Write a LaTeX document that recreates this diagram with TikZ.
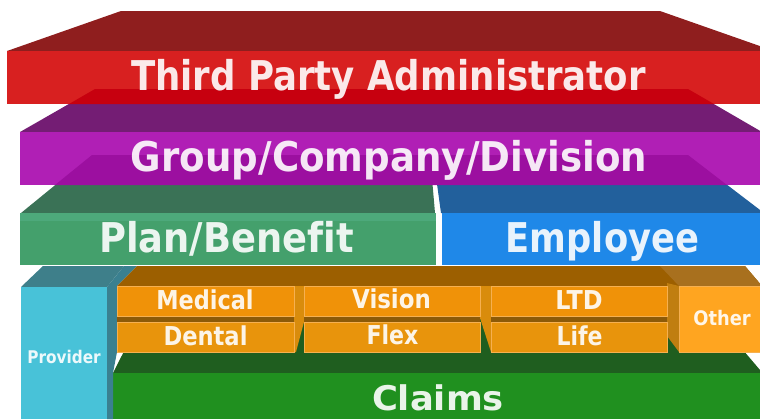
\documentclass[tikz,border=0pt]{standalone}
\usepackage{fontspec}
\setmainfont[Ligatures={NoCommon}]{DejaVu Sans}
\usepackage{graphicx}
\definecolor{redtop}{HTML}{8F1E1E}
\definecolor{redfront}{HTML}{D82020}
\definecolor{reddark}{HTML}{C7000F}
\definecolor{purpletop}{HTML}{741D74}
\definecolor{purplefront}{HTML}{B01FB5}
\definecolor{purpledark}{HTML}{9C0FA0}
\definecolor{greentop}{HTML}{3A7256}
\definecolor{greenfront}{HTML}{44A06C}
\definecolor{greenlight}{HTML}{4DA97B}
\definecolor{bluetop}{HTML}{22609C}
\definecolor{bluefront}{HTML}{1F88E8}
\definecolor{orangetop}{HTML}{9C5F00}
\definecolor{orangefront}{HTML}{F09208}
\definecolor{orangefrontb}{HTML}{E8940C}
\definecolor{orangeedge}{HTML}{F6B050}
\definecolor{stripc}{HTML}{8C5A08}
\definecolor{gapside}{HTML}{D98C0C}
\definecolor{othertop}{HTML}{A8701E}
\definecolor{otherfront}{HTML}{FFA520}
\definecolor{otherside}{HTML}{C07E10}
\definecolor{provfront}{HTML}{48C2D8}
\definecolor{provtop}{HTML}{3E7F8A}
\definecolor{provside}{HTML}{3A8090}
\definecolor{claimstop}{HTML}{1F5E1F}
\definecolor{claimsfront}{HTML}{20901F}
\newcommand{\sizedtext}[3]{\fontsize{#1}{#1}\selectfont\resizebox{#2}{\height}{#3}}
\begin{document}
\begin{tikzpicture}[x=0.75pt,y=-0.75pt,
  lbl/.style={text=white, text opacity=0.9, font=\bfseries, inner sep=0pt, anchor=base},
  ofront/.style={fill=orangefront, draw=orangeedge, line width=0.4pt},
  ofrontb/.style={fill=orangefrontb, draw=orangeedge, line width=0.4pt}]
\useasboundingbox (0,0) rectangle (760,419);
\clip (0,0) rectangle (760,419);

% ---- Claims layer
\fill[claimstop] (150,300) -- (700,300) -- (743,350) -- (760,370) -- (760,373) -- (113,373) -- cycle;
\fill[claimsfront] (113,373) rectangle (775,419);

% ---- Provider side face
\fill[provside] (107,287) -- (124,266) -- (137,266) -- (117,286) -- (117,352) -- (113,373) -- (113,419) -- (107,419) -- cycle;

% ---- Orange blocks: top faces
\fill[orangetop] (117,286) -- (137,266) -- (745,266) -- (762,286) -- cycle;
\fill[othertop] (660,266) -- (745,266) -- (762,286) -- (679,286) -- cycle;
% side faces in the gaps
\fill[gapside] (294,286) -- (304,286) -- (304,322) -- (296,352) -- (294,352) -- cycle;
\fill[gapside] (480,286) -- (491,286) -- (491,352) -- (480,318) -- cycle;
\fill[otherside] (667,283) -- (679,286) -- (679,352) -- (667,336) -- cycle;
% strips between rows
\fill[stripc] (117,316) rectangle (294,322);
\fill[stripc] (304,316) rectangle (480,322);
\fill[stripc] (491,316) rectangle (667,322);
% front faces
\filldraw[ofront] (117,286) rectangle (294,316);
\filldraw[ofrontb] (117,322) rectangle (294,352);
\filldraw[ofront] (304,286) rectangle (480,316);
\filldraw[ofrontb] (304,322) rectangle (480,352);
\filldraw[ofront] (491,286) rectangle (667,316);
\filldraw[ofrontb] (491,322) rectangle (667,352);
\filldraw[fill=otherfront, draw=orangeedge, line width=0.4pt] (679,286) rectangle (775,352);

% ---- Provider
\fill[provtop] (21,287) -- (43,266) -- (124,266) -- (107,287) -- cycle;
\fill[provfront] (21,287) rectangle (107,419);

% ---- Plan/Benefit and Employee layer
\fill[greentop] (92,155) -- (430,155) -- (435,213) -- (21,213) -- cycle;
\fill[bluetop] (433,155) -- (688,155) -- (764,213) -- (441,213) -- cycle;
\fill[greenfront] (20,213) rectangle (436,265);
\fill[greenlight] (20,213) rectangle (436,221);
\fill[bluefront] (442,213) rectangle (775,265);

% ---- Group/Company/Division layer
\fill[purpletop] (95,89) -- (688,89) -- (762,132) -- (20,132) -- cycle;
\fill[purplefront] (20,132) rectangle (775,185);
\fill[purpledark] (92,155) -- (688,155) -- (727,185) -- (55,185) -- cycle;

% ---- Third Party Administrator layer
\fill[redtop] (121,11) -- (660,11) -- (774,51) -- (7,51) -- cycle;
\fill[redfront] (7,51) rectangle (775,104);
\fill[reddark] (95,89) -- (688,89) -- (714,104) -- (69,104) -- cycle;

% ---- Labels
\node[lbl] (tpa) at (388.5,90) {\sizedtext{30.75pt}{386pt}{Third Party Administrator}};
\node[lbl] (gcd) at (389,171) {\sizedtext{30.75pt}{387pt}{Group/Company/Division}};
\node[lbl] (pb) at (226.5,252) {\sizedtext{30.75pt}{191pt}{Plan/Benefit}};
\node[lbl] (emp) at (602.5,252) {\sizedtext{30.75pt}{145pt}{Employee}};
\node[lbl] (med) at (205,309) {\sizedtext{19.5pt}{73pt}{Medical}};
\node[lbl] (den) at (205.5,345) {\sizedtext{19.5pt}{63pt}{Dental}};
\node[lbl] (vis) at (391.5,308) {\sizedtext{19.5pt}{59pt}{Vision}};
\node[lbl] (flx) at (392.5,344) {\sizedtext{19.5pt}{39pt}{Flex}};
\node[lbl] (ltd) at (579,309) {\sizedtext{19.5pt}{35.5pt}{LTD}};
\node[lbl] (life) at (579.5,345) {\sizedtext{19.5pt}{34.5pt}{Life}};
\node[lbl] (oth) at (722,325) {\sizedtext{15pt}{43pt}{Other}};
\node[lbl] (prov) at (64,363) {\sizedtext{13.1pt}{55pt}{Provider}};
\node[lbl] (clm) at (438,410) {\sizedtext{25.5pt}{99pt}{Claims}};
\end{tikzpicture}
\end{document}
